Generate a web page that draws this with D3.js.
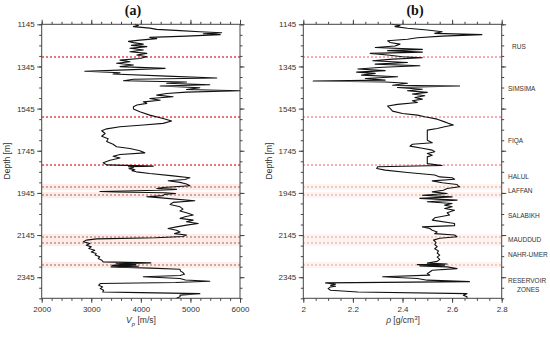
<!DOCTYPE html>
<html><head><meta charset="utf-8">
<script src="https://cdn.jsdelivr.net/npm/d3@7"></script>
<style>
body{margin:0;background:#fff;}
svg{display:block;font-family:"Liberation Sans",Arial,sans-serif;}
</style></head><body>
<svg id="c" width="550" height="337"></svg>
<script>
// ---------- DATA ----------
const depthMajorTicks = [1145,1345,1545,1745,1945,2145,2345];
const vpTicks = [2000,3000,4000,5000,6000];
const rhoTicks = [2,2.2,2.4,2.6,2.8];
const boundariesMajor = [1304,1585,1815];
const boundariesMinor = [1919,1951,2152,2179,2288];
const formationNames = ["RUS","SIMSIMA","FIQA","HALUL","LAFFAN","SALABIKH","MAUDDUD","NAHR-UMER","RESERVOIR","ZONES"];
const formationDepths = [1251,1449,1699,1869,1935,2054,2165,2236,2363,2402];

const vpDepth = [1145,1150,1156,1163,1169,1175,1180,1185,1190,1194,1201,1207,1213,1220,1226,1232,1239,1245,1251,1259,1267,1275,1283,1291,1299,1307,1315,1323,1330,1338,1346,1354,1361,1368,1375,1381,1391,1400,1406,1413,1419,1425,1432,1438,1446,1454,1460,1467,1473,1481,1489,1497,1505,1513,1520,1528,1536,1547,1560,1576,1592,1604,1615,1623,1631,1641,1650,1663,1676,1688,1701,1714,1726,1734,1745,1755,1763,1771,1779,1790,1802,1812,1818,1821,1826,1830,1835,1840,1845,1853,1864,1873,1881,1887,1895,1903,1911,1919,1924,1928,1932,1938,1941,1944,1948,1952,1958,1963,1966,1971,1982,1990,2000,2011,2022,2031,2039,2050,2058,2066,2074,2082,2090,2098,2106,2114,2122,2130,2138,2145,2152,2158,2163,2169,2177,2185,2193,2201,2209,2217,2225,2232,2240,2248,2256,2264,2272,2277,2281,2285,2289,2293,2296,2299,2302,2307,2316,2323,2331,2337,2343,2351,2358,2364,2370,2375,2383,2391,2399,2407,2415,2418,2423,2430,2438,2445];
const vpValue = [3882,3950,3850,4180,4320,4790,5190,5630,5260,5600,4920,4180,4320,3980,3750,3850,4050,3810,4120,3780,4050,3780,4120,3920,4120,3980,3580,3780,3510,3850,3580,4490,3710,2870,3580,3440,4520,5530,3850,3650,4920,4520,5390,4390,5190,4920,6000,4920,4520,4320,4650,4180,4390,4050,4120,3920,3850,3850,3980,4180,4450,4620,4450,4050,3580,3310,3210,3280,3210,3340,3310,3440,3510,3780,3980,4080,3580,3440,3580,3380,3240,3310,4250,3750,3850,3760,3880,3820,3910,4180,4650,4990,4890,4550,4790,4920,4990,4450,4320,4720,4350,3175,3500,4480,4700,4480,4450,4120,4300,4520,5090,4650,4590,4790,4850,4790,4920,5056,4890,4790,5056,4920,5157,4920,4720,4550,4720,4790,4680,4920,4850,4300,3108,2900,2840,2970,2900,3000,2950,3070,3000,3100,3080,3170,3140,3210,3240,4200,3500,3900,3420,3950,3400,3700,4190,4790,4800,4850,4880,4790,4050,4790,4900,5390,4700,3180,3150,3230,3180,3250,3230,4000,5190,4790,4790,4720];

const rhoDepth = [1145,1150,1156,1164,1172,1180,1188,1194,1201,1209,1216,1223,1231,1239,1248,1255,1264,1270,1277,1283,1291,1299,1304,1310,1318,1326,1334,1342,1349,1357,1365,1372,1378,1386,1394,1402,1410,1414,1419,1425,1434,1438,1445,1453,1460,1468,1476,1484,1492,1500,1508,1516,1525,1533,1544,1557,1568,1576,1584,1595,1608,1615,1623,1631,1639,1647,1655,1663,1679,1695,1707,1714,1723,1733,1742,1750,1758,1766,1774,1790,1806,1815,1821,1829,1837,1848,1860,1869,1873,1880,1888,1897,1905,1912,1916,1924,1932,1940,1948,1956,1964,1971,1979,1987,1995,2003,2011,2019,2027,2039,2050,2063,2074,2090,2100,2106,2114,2122,2130,2138,2145,2153,2160,2169,2180,2190,2200,2210,2220,2230,2240,2250,2260,2270,2278,2282,2285,2288,2291,2296,2304,2312,2320,2328,2335,2343,2351,2359,2366,2372,2378,2383,2388,2391,2399,2407,2415,2423,2430,2438,2445];
const rhoValue = [2.356,2.39,2.37,2.42,2.50,2.56,2.53,2.72,2.56,2.46,2.42,2.34,2.35,2.39,2.37,2.29,2.48,2.34,2.48,2.27,2.34,2.40,2.48,2.36,2.28,2.42,2.29,2.47,2.32,2.22,2.33,2.215,2.29,2.235,2.38,2.25,2.33,2.04,2.33,2.42,2.36,2.63,2.38,2.48,2.42,2.50,2.44,2.49,2.45,2.48,2.44,2.46,2.38,2.34,2.35,2.36,2.40,2.46,2.49,2.54,2.57,2.585,2.605,2.57,2.54,2.50,2.50,2.50,2.50,2.50,2.52,2.44,2.43,2.48,2.52,2.53,2.50,2.52,2.50,2.50,2.50,2.56,2.30,2.296,2.33,2.42,2.53,2.55,2.60,2.61,2.52,2.56,2.62,2.625,2.63,2.58,2.565,2.52,2.58,2.48,2.60,2.47,2.62,2.50,2.60,2.57,2.60,2.57,2.61,2.58,2.59,2.53,2.52,2.61,2.61,2.48,2.51,2.52,2.54,2.53,2.61,2.62,2.55,2.525,2.535,2.53,2.54,2.53,2.545,2.54,2.55,2.54,2.55,2.54,2.50,2.58,2.46,2.57,2.47,2.58,2.62,2.52,2.51,2.50,2.51,2.32,2.46,2.50,2.67,2.09,2.13,2.11,2.13,2.11,2.10,2.11,2.22,2.66,2.645,2.66,2.66];

// ---------- DRAW ----------
const svg = d3.select("#c");
const yTop = 24.3, yBot = 298.3;
const y = d3.scaleLinear().domain([1145,2445]).range([yTop,yBot]);
const minorDepth = d3.range(1145,2446,50);
const snapOdd = v => Math.round((v - 1) / 2) * 2 + 1;

function panel(cfg){
  const g = svg.append("g");
  const x = d3.scaleLinear().domain(cfg.xDomain).range([cfg.x0,cfg.x1]);
  cfg.minorLines.forEach(d=>{
    g.append("rect").attr("x",cfg.x0).attr("width",cfg.x1-cfg.x0)
     .attr("y",snapOdd(y(d))-3).attr("height",6).attr("fill",cfg.bandColor);
  });
  const drawLine = (d,color)=>g.append("line").attr("x1",Math.round(cfg.x0)).attr("x2",cfg.x1)
     .attr("y1",snapOdd(y(d))).attr("y2",snapOdd(y(d)))
     .attr("stroke",color).attr("stroke-width",1.6).attr("stroke-dasharray","2,2");
  cfg.majorLines.forEach(d=>drawLine(d,cfg.majorColor));
  cfg.minorLines.forEach(d=>drawLine(d,cfg.minorColor));
  const pts = cfg.depth.map((d,i)=>[cfg.vals[i],d]);
  g.append("path").datum(pts)
   .attr("d",d3.line().x(p=>x(p[0])).y(p=>y(p[1])))
   .attr("fill","none").attr("stroke","#111").attr("stroke-width",1.1).attr("stroke-linejoin","round");
  g.append("rect").attr("x",cfg.x0).attr("y",yTop).attr("width",cfg.x1-cfg.x0).attr("height",yBot-yTop)
   .attr("fill","none").attr("stroke","#444").attr("stroke-width",1);
  const styleAxis = a=>{ a.selectAll("path").remove(); a.selectAll("line").attr("stroke","#444");
    a.selectAll("text").attr("fill","#333").attr("font-size","8px"); };
  g.append("g").attr("transform",`translate(${cfg.x0},0)`)
   .call(d3.axisLeft(y).tickValues(minorDepth).tickSize(2.5).tickFormat("")).call(styleAxis);
  g.append("g").attr("transform",`translate(${cfg.x0},0)`)
   .call(d3.axisLeft(y).tickValues(depthMajorTicks).tickSize(4.5).tickPadding(2.5).tickFormat(d3.format("d"))).call(styleAxis);
  g.append("g").attr("transform",`translate(${cfg.x1},0)`)
   .call(d3.axisRight(y).tickValues(minorDepth).tickSize(2.5).tickFormat("")).call(styleAxis);
  g.append("g").attr("transform",`translate(${cfg.x1},0)`)
   .call(d3.axisRight(y).tickValues(depthMajorTicks).tickSize(4.5).tickFormat("")).call(styleAxis);
  g.append("g").attr("transform",`translate(0,${yTop})`)
   .call(d3.axisTop(x).tickValues(cfg.xMinor).tickSize(2.5).tickFormat("")).call(styleAxis);
  g.append("g").attr("transform",`translate(0,${yTop})`)
   .call(d3.axisTop(x).tickValues(cfg.xTicks).tickSize(4.5).tickFormat("")).call(styleAxis);
  g.append("g").attr("transform",`translate(0,${yBot})`)
   .call(d3.axisBottom(x).tickValues(cfg.xMinor).tickSize(2.5).tickFormat("")).call(styleAxis);
  g.append("g").attr("transform",`translate(0,${yBot})`)
   .call(d3.axisBottom(x).tickValues(cfg.xTicks).tickSize(4.5).tickPadding(4).tickFormat(cfg.fmt)).call(styleAxis);
  g.append("text").attr("x",cfg.titleX).attr("y",15).attr("text-anchor","middle")
   .attr("font-family","'Liberation Serif','Times New Roman',serif").attr("font-weight","bold")
   .attr("font-size","14px").attr("fill","#111").text(cfg.title);
  g.append("text").attr("transform",`translate(${cfg.ylabX},161) rotate(-90)`).attr("text-anchor","middle")
   .attr("font-size","8.5px").attr("fill","#333").text("Depth [m]");
  return {g,x};
}

const step = (a,b,s)=>d3.range(a,b+s/2,s);

panel({x0:41.7,x1:240,xDomain:[2000,6000],xTicks:vpTicks,xMinor:step(2000,6000,200),
  fmt:d3.format("d"),depth:vpDepth,vals:vpValue,majorLines:boundariesMajor,minorLines:boundariesMinor,
  majorColor:"#e8464f",minorColor:"#cc9068",bandColor:"#fcecee",title:"(a)",titleX:133,ylabX:10});
panel({x0:303.3,x1:501.7,xDomain:[2,2.8],xTicks:rhoTicks,xMinor:step(2,2.8,0.05).map(v=>+v.toFixed(2)),
  fmt:d=>String(+d.toFixed(1)),depth:rhoDepth,vals:rhoValue,majorLines:boundariesMajor,minorLines:boundariesMinor,
  majorColor:"#f29199",minorColor:"#ecc0a6",bandColor:"#fdf3f3",title:"(b)",titleX:415,ylabX:272});

const xl = svg.append("text").attr("x",141).attr("y",323).attr("text-anchor","middle").attr("font-size","8.5px").attr("fill","#333");
xl.append("tspan").attr("font-style","italic").text("V");
xl.append("tspan").attr("font-style","italic").attr("font-size","6px").attr("dy",2.5).text("p");
xl.append("tspan").attr("dy",-2.5).text(" [m/s]");
const rl = svg.append("text").attr("x",403).attr("y",323).attr("text-anchor","middle").attr("font-size","8.5px").attr("fill","#333");
rl.append("tspan").attr("font-style","italic").text("ρ");
rl.append("tspan").text(" [g/cm");
rl.append("tspan").attr("font-size","6px").attr("dy",-3).text("3");
rl.append("tspan").attr("dy",3).text("]");

formationNames.forEach((n,i)=>{
  svg.append("text").attr("x", n==="RUS"?512:(n==="ZONES"?517:508)).attr("y",y(formationDepths[i]))
   .attr("dy","0.35em").attr("font-size","6.5px").attr("fill","#333").text(n);
});
</script></body></html>
